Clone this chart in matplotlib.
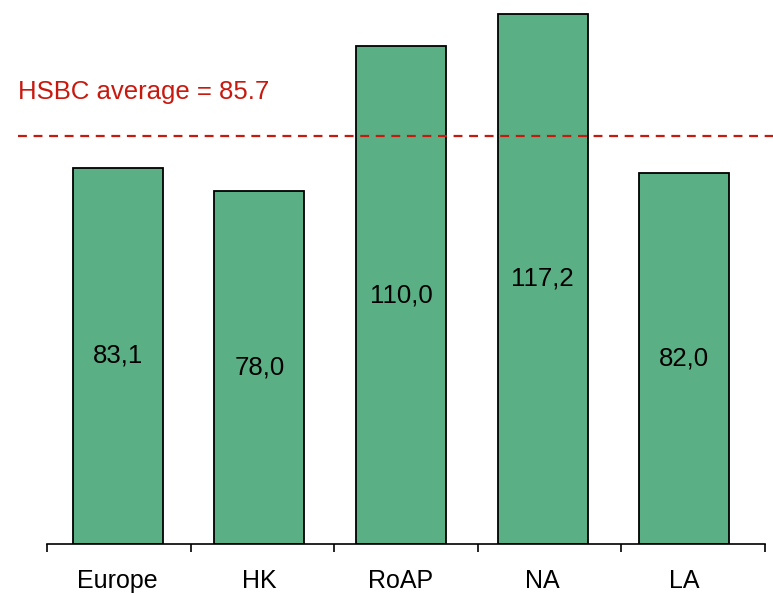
import numpy as np
import matplotlib.pyplot as plt
from matplotlib.transforms import blended_transform_factory

regions = ['Europe', 'HK', 'RoAP', 'NA', 'LA']
values = [83.1, 78.0, 110.0, 117.2, 82.0]
value_labels = ['83,1', '78,0', '110,0', '117,2', '82,0']
avg_text = 'HSBC average = 85.7'
avg_line_level = 90.2  # dashed line position as drawn in the source

plt.rcParams['font.family'] = ['Liberation Sans', 'DejaVu Sans']

fig = plt.figure(figsize=(7.73, 5.93), dpi=100)
ax = fig.add_axes([47 / 773, 49 / 593, 718 / 773, 543 / 593])

x = np.arange(len(regions))
ax.bar(x, values, width=0.636, color='#5AAF84', edgecolor='black', linewidth=1.3)
for xi, v, lab in zip(x, values, value_labels):
    ax.text(xi, v / 2, lab, ha='center', va='center', fontsize=18.5)

# average line, runs out past the axes on both sides
ax.axhline(avg_line_level, xmin=-0.041, xmax=1.02, color='#C8190F',
           linestyle=(0, (4, 3)), linewidth=1.6, clip_on=False)
trans = blended_transform_factory(fig.transFigure, ax.transData)
ax.text(18 / 773, 99.8, avg_text, transform=trans, color='#C8190F',
        fontsize=18.5, ha='left', va='center')

ax.set_xlim(-0.5, 4.57)
ax.set_ylim(0, 120)
# separator ticks split the axis in equal parts
ax.set_xticks(np.linspace(-0.5, 4.57, len(regions) + 1))
ax.set_xticklabels([])
ax.set_xticks(x, minor=True)
ax.set_xticklabels(regions, minor=True, fontsize=18)
ax.tick_params(axis='x', which='major', direction='out', length=6, width=1.2)
ax.tick_params(axis='x', which='minor', length=0, pad=18)
ax.set_yticks([])
for side in ['left', 'right', 'top']:
    ax.spines[side].set_visible(False)
ax.spines['bottom'].set_linewidth(1.2)

plt.savefig('out.png', dpi=100)
